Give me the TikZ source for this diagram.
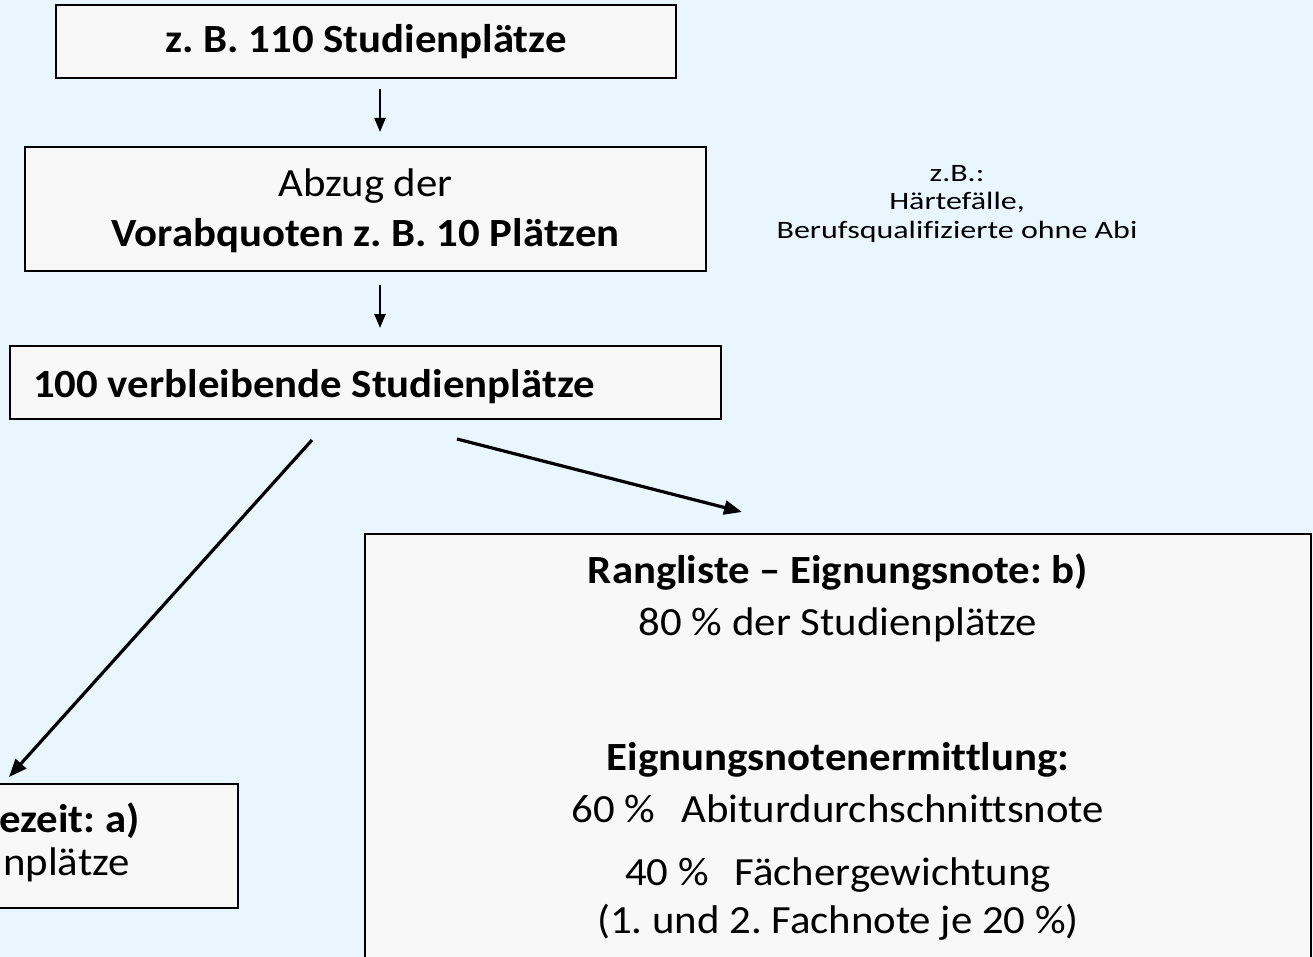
\documentclass[tikz,border=0pt]{standalone}
\usepackage{fontspec}
\setmainfont{Carlito}[Ligatures={NoCommon}]
\newfontfamily\mainf{Carlito}[Ligatures={NoCommon},FakeStretch=1.07]
\newfontfamily\notef{Carlito}[Ligatures={NoCommon},FakeStretch=1.28]
\usetikzlibrary{arrows.meta,calc}
\definecolor{bgblue}{HTML}{EAF6FF}
\definecolor{boxfill}{HTML}{F8F8F8}
\frenchspacing
\begin{document}
\begin{tikzpicture}[x=1pt,y=-1pt,
  box/.style={draw=black, line width=2pt, fill=boxfill, inner sep=0pt},
  txt/.style={anchor=base, inner sep=0pt, font=\mainf\fontsize{40}{48}\selectfont},
  btxt/.style={anchor=base, inner sep=0pt, font=\mainf\fontsize{40}{48}\selectfont\bfseries},
  note/.style={anchor=base, inner sep=0pt, font=\notef\fontsize{25}{29}\selectfont},
  smallarr/.style={line width=2.2pt, -{Triangle[length=14pt,width=11pt]}},
  bigarr/.style={line width=3.2pt, -{Triangle[length=18pt,width=14pt]}}]
\fill[bgblue] (0,0) rectangle (1313,957);
\useasboundingbox (0,0) rectangle (1313,957);

% boxes
\node[box, minimum width=620pt, minimum height=73pt] (b1) at (366,41.5) {};
\node[box, minimum width=681pt, minimum height=124pt] (b2) at (365.5,209) {};
\node[box, minimum width=711pt, minimum height=73pt] (b3) at (365.5,382.5) {};
\node[box, minimum width=946pt, minimum height=442pt] (b4) at (838,755) {};
\node[box, minimum width=438pt, minimum height=124pt] (b5) at (19,846) {};

% texts
\node[btxt] (t1) at (366,53) {z. B. 110 Studienplätze};
\node[txt] (t2a) at (365.5,197) {Abzug der};
\node[btxt] (t2b) at (365.5,247) {Vorabquoten z. B. 10 Plätzen};
\node[btxt, anchor=base west] (t3) at (33,397) {100 verbleibende Studienplätze};

\node[btxt] (t4a) at (838,583) {Rangliste – Eignungsnote: b)};
\node[txt] (t4b) at (838,635) {80 \% der Studienplätze};
\node[btxt] (t4c) at (838,770) {Eignungsnotenermittlung:};
\node[txt] (t4d) at (838,822) {60 \%\hspace{26pt}Abiturdurchschnittsnote};
\node[txt] (t4e) at (838,885) {40 \%\hspace{26pt}Fächergewichtung};
\node[txt] (t4f) at (838,933) {(1. und 2. Fachnote je 20 \%)};

\node[btxt, anchor=base east] (t5a) at (140,832) {ezeit: a)};
\node[txt, anchor=base west] (t5b) at (3,875) {nplätze};

\node[note] (n1) at (957,182) {z.B.:};
\node[note] (n2) at (957,210) {Härtefälle,};
\node[note] (n3) at (957,239) {Berufsqualifizierte ohne Abi};

% connectors
\draw[smallarr] ($(b1.south)+(14,10)$) -- ($(b2.north)+(14.5,-14)$);
\draw[smallarr] ($(b2.south)+(14.5,13)$) -- ($(b3.north)+(14.5,-17)$);
\draw[bigarr] ($(b3.south)+(-53.5,20)$) -- ($(b5.north east)+(-230,-6)$);
\draw[bigarr] ($(b3.south)+(91.5,19)$) -- ($(b4.north west)+(378,-21)$);
\end{tikzpicture}
\end{document}
